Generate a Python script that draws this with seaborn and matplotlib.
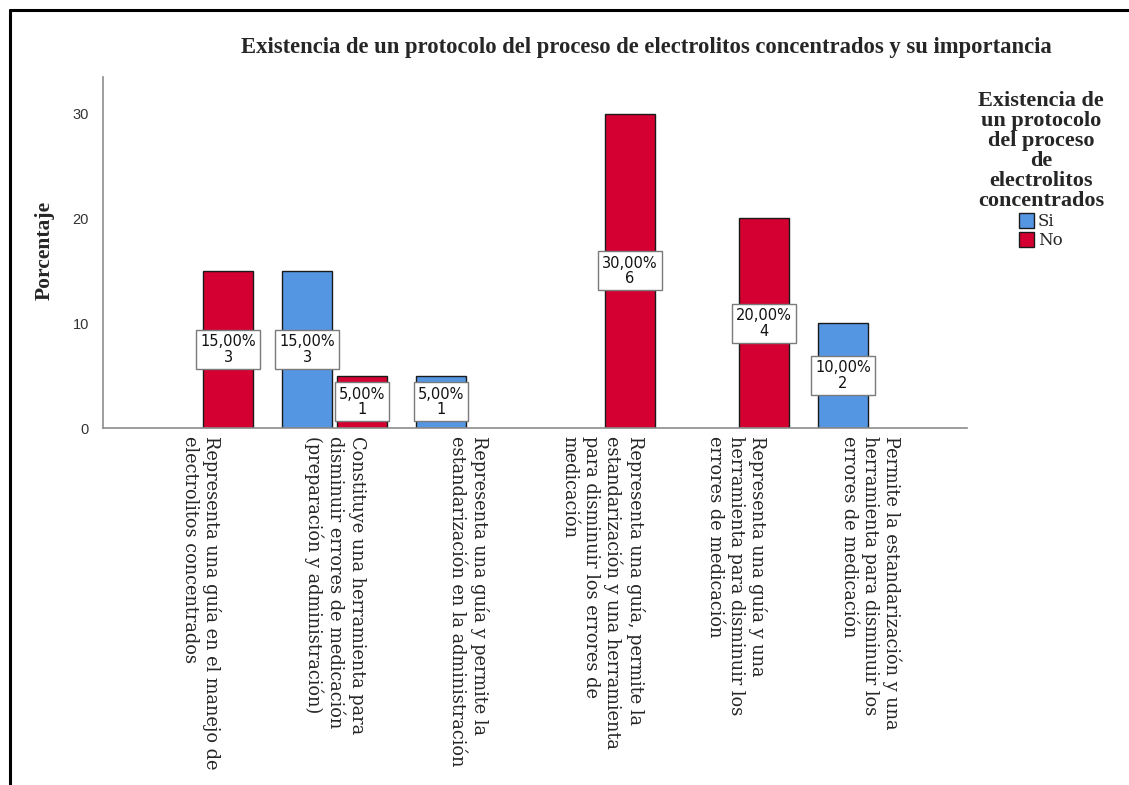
import matplotlib
matplotlib.use("Agg")
import matplotlib.pyplot as plt
from matplotlib.lines import Line2D
import seaborn as sns
import pandas as pd

# Response categories (x axis)
categorias = [
    "Representa una guía en el manejo de\nelectrolitos concentrados",
    "Constituye una herramienta para\ndisminuir errores de medicación\n(preparación y administración)",
    "Representa una guía y permite la\nestandarización en la administración",
    "Representa una guía, permite la\nestandarización y una herramienta\npara disminuir los errores de\nmedicación",
    "Representa una guía y una\nherramienta para disminuir los\nerrores de medicación",
    "Permite la estandarización y una\nherramienta para disminuir los\nerrores de medicación",
]
grupos = ["Si", "No"]

# Percentages and counts per group (None = no bar)
porcentaje_si = [None, 15.0, 5.0, None, None, 10.0]
porcentaje_no = [15.0, 5.0, None, 30.0, 20.0, None]
recuento_si = [None, 3, 1, None, None, 2]
recuento_no = [3, 1, None, 6, 4, None]

colores = {"Si": "#5596e3", "No": "#d30031"}

filas = []
for g, pcts, cnts in (("Si", porcentaje_si, recuento_si), ("No", porcentaje_no, recuento_no)):
    for cat, p, c in zip(categorias, pcts, cnts):
        if p is not None:
            filas.append({"categoria": cat, "grupo": g, "porcentaje": p, "recuento": c})
df = pd.DataFrame(filas)

sns.set_style("white")
plt.rcParams["font.family"] = ["DejaVu Sans"]

fig = plt.figure(figsize=(11.29, 7.85), dpi=100)
ax = fig.add_axes([103 / 1129, 1 - 428 / 785, (967 - 103) / 1129, (428 - 77) / 785])

sns.barplot(
    data=df, x="categoria", y="porcentaje", hue="grupo",
    order=categorias, hue_order=grupos, palette=colores, saturation=1,
    width=0.82, gap=0.09, edgecolor="#1a1a1a", linewidth=1.0,
    errorbar=None, ax=ax,
)

ax.set_xlim(-0.728, 5.72)
ax.set_ylim(0, 33.5)
ax.set_yticks([0, 10, 20, 30])
ax.tick_params(axis="y", length=0, pad=10, labelsize=10.5, labelcolor="#333333")
ax.tick_params(axis="x", length=0, pad=6)
for lab in ax.get_yticklabels():
    lab.set_fontfamily("Liberation Sans")
ax.set_xticks(range(len(categorias)))
ax.set_xticklabels(categorias, rotation=270, ha="center", va="top",
                   multialignment="left", family="DejaVu Serif", fontsize=12.8,
                   linespacing=1.22)
ax.set_xlabel("")
ax.set_ylabel("")

for side in ("top", "right"):
    ax.spines[side].set_visible(False)
for side in ("left", "bottom"):
    ax.spines[side].set_color("#8c8c8c")
    ax.spines[side].set_linewidth(1.2)

# Value boxes in the middle of each bar
datos = {"Si": (porcentaje_si, recuento_si), "No": (porcentaje_no, recuento_no)}
for grupo, cont in zip(grupos, ax.containers):
    pcts, cnts = datos[grupo]
    for barra in cont:
        xc = barra.get_x() + barra.get_width() / 2
        i = int(round(xc))
        p, c = pcts[i], cnts[i]
        texto = f"{p:.2f}%".replace(".", ",") + f"\n{c}"
        ax.text(xc, p / 2, texto, ha="center", va="center", fontsize=10.5,
                linespacing=1.05, color="#111111",
                bbox=dict(boxstyle="square,pad=0.28", fc="white", ec="#7a7a7a", lw=1.0))

# Legend
handles, labels = ax.get_legend_handles_labels()
ax.get_legend().remove()
leg = fig.legend(
    handles, labels,
    title="Existencia de\nun protocolo\ndel proceso\nde\nelectrolitos\nconcentrados",
    loc="upper center", bbox_to_anchor=(1041 / 1129, 1 - 84 / 785),
    frameon=False, alignment="center", handlelength=0.9, handleheight=1.0,
    handletextpad=0.2, labelspacing=0.12, borderaxespad=0,
    prop={"family": "DejaVu Serif", "size": 12},
    title_fontproperties={"family": "Liberation Serif", "weight": "bold", "size": 16},
)
leg.get_title().set_multialignment("center")
leg.get_title().set_linespacing(1.0)
for h in leg.legend_handles:
    h.set_edgecolor("#1a1a1a")
    h.set_linewidth(1.0)

fig.text(646 / 1129, 1 - 47 / 785,
         "Existencia de un protocolo del proceso de electrolitos concentrados y su importancia",
         ha="center", va="center", family="Liberation Serif", weight="bold", fontsize=16.3)
fig.text(45 / 1129, 1 - 250 / 785, "Porcentaje", rotation=90, ha="center", va="center",
         family="Liberation Serif", weight="bold", fontsize=15.5)

# Outer frame (top and left edges)
fig.add_artist(Line2D([9.5 / 1129, 1], [1 - 9.5 / 785] * 2, color="black", lw=2.2,
                      transform=fig.transFigure))
fig.add_artist(Line2D([9.5 / 1129] * 2, [0, 1 - 9.5 / 785], color="black", lw=2.2,
                      transform=fig.transFigure))

fig.savefig("out.png", dpi=100)
